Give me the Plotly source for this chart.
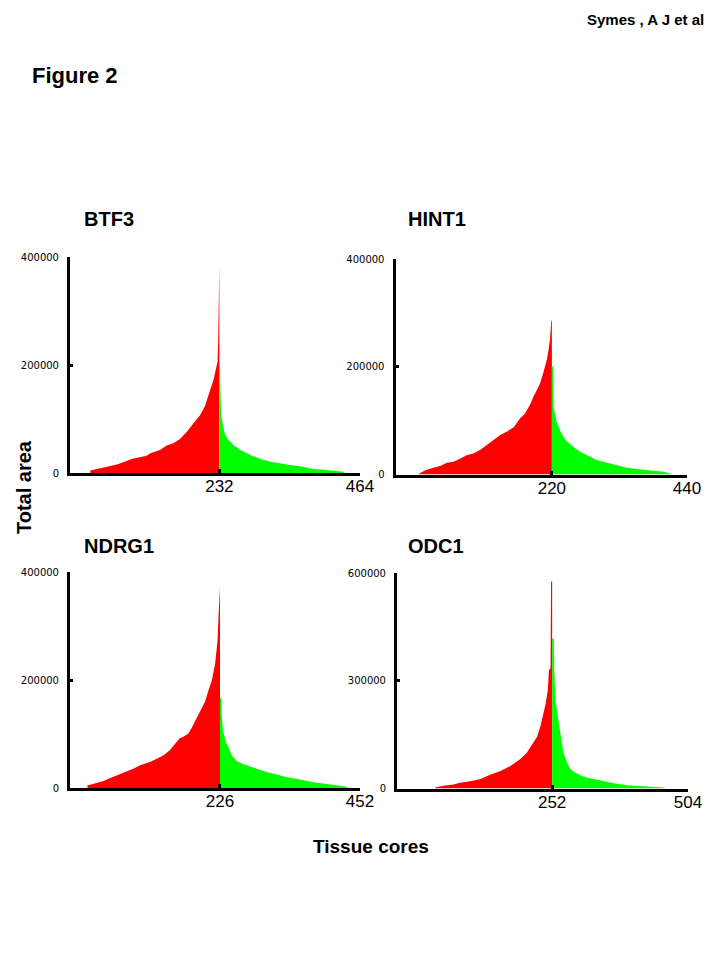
import plotly.graph_objects as go

# ---------------- data ----------------
# BTF3
btf3_total = 464
btf3_split = 232
btf3_red_core = [19, 35, 63, 79, 87, 112, 118, 134, 145, 156, 167, 178, 189, 200, 208, 214, 219, 223, 226, 229, 230, 231, 232]
btf3_red_area = [4400, 8750, 15600, 22000, 26000, 32000, 36400, 42600, 51000, 55000, 63000, 76000, 92000, 107000, 123000, 144000, 157000, 175000, 191000, 206000, 243000, 386000, 386000]
btf3_green_core = [232, 233, 234, 235, 238, 241, 247, 255, 266, 283, 299, 316, 332, 343, 365, 387, 409, 420, 437]
btf3_green_area = [205000, 205000, 140000, 107000, 89000, 72000, 61000, 52000, 43000, 33500, 26500, 21000, 18000, 15600, 12500, 7500, 5600, 4400, 2500]

# HINT1
hint1_total = 440
hint1_split = 220
hint1_red_core = [4, 14, 27, 38, 49, 60, 71, 81, 92, 103, 114, 125, 136, 147, 152, 158, 168, 176, 185, 190, 196, 201, 206, 209, 212, 215, 217, 219, 220]
hint1_red_area = [1900, 8100, 12500, 15600, 21800, 23700, 29900, 36000, 39000, 45500, 54800, 64000, 73500, 80000, 83000, 88000, 104000, 113000, 131000, 145000, 158000, 170000, 189000, 200000, 214000, 235000, 252000, 286000, 286000]
hint1_green_core = [220, 222, 223, 226, 228, 231, 234, 242, 250, 258, 266, 277, 293, 310, 326, 342, 364, 386, 402, 413]
hint1_green_area = [201000, 201000, 125000, 105000, 96000, 89000, 80000, 64000, 56000, 49000, 42400, 36000, 26800, 21800, 17400, 12500, 9300, 6900, 5000, 1900]

# NDRG1
ndrg1_total = 452
ndrg1_split = 226
ndrg1_red_core = [12, 27, 38, 48, 59, 70, 86, 97, 113, 124, 135, 145, 151, 156, 161, 167, 175, 180, 188, 194, 202, 207, 210, 213, 218, 222, 224, 225, 226]
ndrg1_red_area = [4400, 9400, 13000, 18000, 23000, 28000, 35600, 42000, 48000, 54000, 60600, 70000, 79000, 85600, 92000, 95000, 101000, 110600, 129000, 142000, 160000, 179000, 191000, 200000, 229000, 272000, 328000, 372000, 372000]
ndrg1_green_core = [226, 228, 229, 231, 234, 237, 240, 245, 253, 262, 272, 285, 301, 318, 334, 355, 377, 398, 414, 431]
ndrg1_green_area = [167000, 167000, 130000, 105000, 92000, 80000, 75000, 60000, 50000, 45000, 41000, 35600, 29400, 25000, 20000, 15600, 10600, 7500, 4400, 2500]

# ODC1
odc1_total = 504
odc1_split = 252
odc1_red_core = [35, 50, 69, 81, 100, 118, 137, 155, 174, 193, 205, 214, 224, 230, 236, 240, 244, 246, 249, 250, 252]
odc1_red_area = [2800, 7500, 11200, 15800, 20500, 26000, 38000, 48000, 62000, 82000, 100000, 120000, 144000, 172000, 209000, 237000, 274000, 330000, 335000, 577000, 577000]
odc1_green_core = [252, 255, 256, 258, 261, 264, 267, 270, 273, 279, 285, 292, 304, 316, 341, 366, 391, 415, 440, 459]
odc1_green_area = [418000, 418000, 330000, 246000, 215000, 185000, 150000, 120000, 100000, 75000, 56000, 47000, 37000, 31000, 22000, 14500, 9300, 6500, 4700, 2800]

gene_names = ["BTF3", "HINT1", "NDRG1", "ODC1"]
y_ticks = [[0, 200000, 400000], [0, 200000, 400000], [0, 200000, 400000], [0, 300000, 600000]]

# ---------------- layout helpers (pixel geometry) ----------------
OFF = 8                      # page body margin
W, H = 720 - OFF, 960 - OFF  # figure size so it fits the window
RED = "#FF0000"
GREEN = "#00FF00"
BOLD = "Arial, Liberation Sans, sans-serif"


def fx(px):
    return (px - OFF) / W


def fy(py):
    return 1 - (py - OFF) / H


panels = [
    dict(total=btf3_total, split=btf3_split, rc=btf3_red_core, ra=btf3_red_area,
         gc=btf3_green_core, ga=btf3_green_area, xl=70, xr=360, yb=473, yt=257, x0=-14.4),
    dict(total=hint1_total, split=hint1_split, rc=hint1_red_core, ra=hint1_red_area,
         gc=hint1_green_core, ga=hint1_green_area, xl=395.5, xr=687, yb=474.5, yt=259.3, x0=-34.6),
    dict(total=ndrg1_total, split=ndrg1_split, rc=ndrg1_red_core, ra=ndrg1_red_area,
         gc=ndrg1_green_core, ga=ndrg1_green_area, xl=70, xr=360, yb=788, yt=572, x0=-16.1),
    dict(total=odc1_total, split=odc1_split, rc=odc1_red_core, ra=odc1_red_area,
         gc=odc1_green_core, ga=odc1_green_area, xl=397, xr=688, yb=788.5, yt=573.3, x0=-35.8),
]

fig = go.Figure()
layout = dict(
    width=W, height=H, autosize=False,
    margin=dict(l=0, r=0, t=0, b=0, pad=0, autoexpand=False),
    paper_bgcolor="white", plot_bgcolor="white",
    showlegend=False,
)

for i, p in enumerate(panels):
    k = "" if i == 0 else str(i + 1)
    xa, ya = "x" + k, "y" + k
    fig.add_trace(go.Scatter(x=p["rc"], y=p["ra"], mode="lines", line=dict(width=0, color=RED),
                             fill="tozeroy", fillcolor=RED, xaxis=xa, yaxis=ya, hoverinfo="skip"))
    fig.add_trace(go.Scatter(x=p["gc"], y=p["ga"], mode="lines", line=dict(width=0, color=GREEN),
                             fill="tozeroy", fillcolor=GREEN, xaxis=xa, yaxis=ya, hoverinfo="skip"))
    yt = y_ticks[i]
    layout["xaxis" + k] = dict(
        domain=[fx(p["xl"]), fx(p["xr"])], range=[p["x0"], p["total"]], anchor=ya,
        tickvals=[p["split"], p["total"]], ticktext=[str(p["split"]), str(p["total"])],
        ticks="inside", ticklen=4, tickwidth=3, tickcolor="black",
        showline=True, linewidth=3, linecolor="black", showgrid=False, zeroline=False,
        tickfont=dict(family="Arial, Liberation Sans, sans-serif", size=17, color="black"),
        ticklabelstandoff=-4,
        automargin=False, fixedrange=True,
    )
    layout["yaxis" + k] = dict(
        domain=[fy(p["yb"]), fy(p["yt"])], range=[0, yt[-1]], anchor=xa,
        tickvals=yt, ticktext=[str(v) for v in yt],
        ticks="inside", ticklen=3, tickwidth=3, tickcolor="black",
        showline=True, linewidth=3, linecolor="black", showgrid=False, zeroline=False,
        tickfont=dict(family="DejaVu Sans, sans-serif", size=10, color="black"),
        ticklabelstandoff=6,
        automargin=False, fixedrange=True,
    )

fig.update_layout(**layout)


def note(text, px, py, size, xanchor="center", angle=0):
    fig.add_annotation(text=text, x=fx(px), y=fy(py), xref="paper", yref="paper",
                       xanchor=xanchor, yanchor="middle", showarrow=False, textangle=angle,
                       font=dict(family=BOLD, size=size, color="black", weight="bold"))


note("Symes , A J et al", 645, 20, 15)
note("Figure 2", 75, 76, 22)
note(gene_names[0], 82, 219, 20, xanchor="left")
note(gene_names[1], 406, 219, 20, xanchor="left")
note(gene_names[2], 82, 546, 20, xanchor="left")
note(gene_names[3], 406, 546, 20, xanchor="left")
note("Total area", 24, 487, 20, angle=-90)
note("Tissue cores", 371, 846, 19)

fig.write_html("out.html")
